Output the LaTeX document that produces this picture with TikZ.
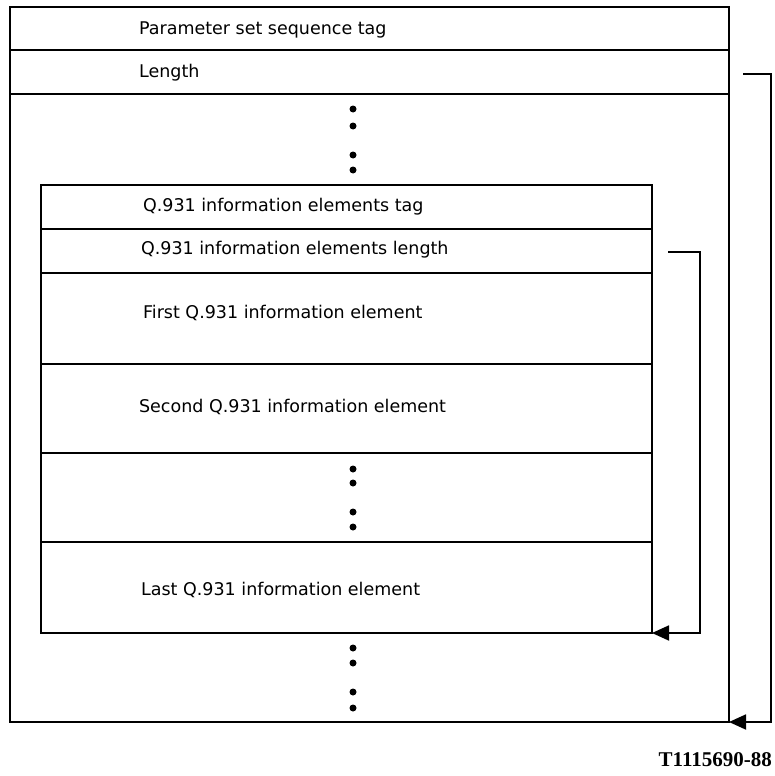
\documentclass[tikz,border=0pt]{standalone}
\usepackage{fontspec}
\setmainfont{DejaVu Sans}
\newfontfamily\figfont{Liberation Serif}
\usetikzlibrary{arrows.meta,calc}
\tikzset{
  field/.style={anchor=west,inner sep=0pt,font=\fontsize{17.5}{20}\selectfont},
  dot/.style={circle,fill,inner sep=0pt,minimum size=7pt},
  lenarrow/.style={-{Triangle[length=17pt,width=15pt]},line width=1.8pt}
}
\begin{document}
\begin{tikzpicture}[x=1pt,y=-1pt,line width=2.2pt]
\useasboundingbox (0,0) rectangle (774,776);
\coordinate (OTL) at (10,7);
\coordinate (OBR) at (729,722);
\coordinate (ITL) at (41,185);
\coordinate (IBR) at (652,633);
%outer box
\draw (OTL) rectangle (OBR);
\foreach \y in {50,94}
  \draw (10,\y) -- (729,\y);
%inner box
\draw (ITL) rectangle (IBR);
\foreach \y in {229,273,364,453,542}
  \draw (41,\y) -- (652,\y);
%label
\node[field] (PSTAG) at (138,30) {Parameter set sequence tag};
\node[field] (PSLEN) at (138,73) {Length};
\node[field] (IETAG) at (142,207) {Q.931 information elements tag};
\node[field] (IELEN) at (140,250) {Q.931 information elements length};
\node[field] (IEFIRST) at (142,313) {First Q.931 information element};
\node[field] (IESECOND) at (138,407) {Second Q.931 information element};
\node[field] (IELAST) at (140,590) {Last Q.931 information element};
%dots
\foreach \y [count=\i] in {109,126,155,170,469,483,512,527,648,663,692,708}
  \node[dot] (DOT\i) at (353,\y) {};
%length arrows
\coordinate (ILENA) at (668,252);
\coordinate (ILENB) at (700,252);
\coordinate (ILENC) at (700,633);
\draw[lenarrow] (ILENA) -- (ILENB) -- (ILENC) -- (IBR);
\coordinate (OLENA) at (743,74);
\coordinate (OLENB) at (771,74);
\coordinate (OLENC) at (771,722);
\draw[lenarrow] (OLENA) -- (OLENB) -- (OLENC) -- (OBR);
%figure number
\node[font=\figfont\bfseries\fontsize{21}{24}\selectfont,anchor=east,inner sep=0pt] (FIGNO) at (773,760) {T1115690-88};
\end{tikzpicture}
\end{document}
